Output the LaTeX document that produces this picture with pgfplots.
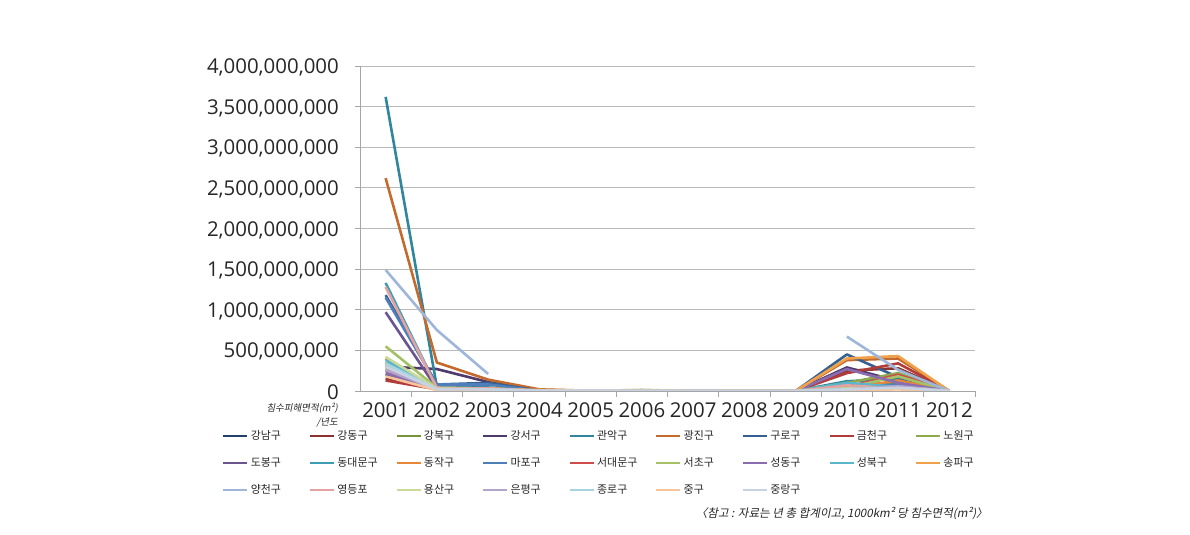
\documentclass[border=0pt]{standalone}
\usepackage{pgfplots}
\pgfplotsset{compat=1.18}
\usepackage{pgfplotstable}
\usepackage{fontspec}
\setmainfont{Open Sans}
\newfontfamily\kr{Noto Sans CJK KR}
\newfontfamily\krit[FakeSlant=0.2]{Noto Sans CJK KR}
\definecolor{c1}{HTML}{23426B}
\definecolor{c2}{HTML}{8B3331}
\definecolor{c3}{HTML}{77933C}
\definecolor{c4}{HTML}{4F3B6B}
\definecolor{c5}{HTML}{31859C}
\definecolor{c6}{HTML}{C46A2C}
\definecolor{c7}{HTML}{376092}
\definecolor{c8}{HTML}{B03D3A}
\definecolor{c9}{HTML}{8DAA4F}
\definecolor{c10}{HTML}{6B5590}
\definecolor{c11}{HTML}{3D9DB4}
\definecolor{c12}{HTML}{E7873A}
\definecolor{c13}{HTML}{4F7FBA}
\definecolor{c14}{HTML}{D04B4B}
\definecolor{c15}{HTML}{A5C168}
\definecolor{c16}{HTML}{8A6CB0}
\definecolor{c17}{HTML}{5BB5CC}
\definecolor{c18}{HTML}{F0A24A}
\definecolor{c19}{HTML}{9DB6DA}
\definecolor{c20}{HTML}{E3A3A1}
\definecolor{c21}{HTML}{C9DA9B}
\definecolor{c22}{HTML}{B2A5C9}
\definecolor{c23}{HTML}{A5D5E3}
\definecolor{c24}{HTML}{F8C49B}
\definecolor{c25}{HTML}{C7D3E3}
\definecolor{txt}{HTML}{262626}
\pgfplotscreateplotcyclelist{gu}{%
{c1},{c2},{c3},{c4},{c5},{c6},{c7},{c8},{c9},{c10},{c11},{c12},{c13},%
{c14},{c15},{c16},{c17},{c18},{c19},{c20},{c21},{c22},{c23},{c24},{c25}}
% values in millions of m^2
\pgfplotstableread{
x s1 s2 s3 s4 s5 s6 s7 s8 s9 s10 s11 s12 s13 s14 s15 s16 s17 s18 s19 s20 s21 s22 s23 s24 s25
0 200 150 350 300 3620 2620 1180 130 280 970 1330 400 1150 250 550 220 380 320 1490 1280 420 260 340 180 300
1 50 30 40 270 50 350 80 20 30 30 40 30 80 30 40 20 30 30 750 40 30 20 20 10 20
2 40 20 30 110 40 140 100 20 20 20 30 30 80 20 30 20 20 30 210 30 20 20 20 10 20
3 4 8 4 4 4 20 4 4 4 4 4 15 4 4 4 4 4 10 nan 4 4 4 4 4 4
4 3 8 3 3 3 3 3 3 3 3 3 3 3 3 3 3 3 3 nan 3 3 3 3 3 3
5 2 3 10 2 2 2 2 2 8 5 2 2 2 2 12 4 2 2 nan 2 6 3 2 2 2
6 1 1 2 1 1 1 1 1 2 3 1 1 1 1 2 4 1 1 nan 1 1 2 1 1 1
7 1 1 1 1 1 1 1 1 1 1 1 1 1 1 1 1 1 1 nan 1 1 1 1 1 1
8 0 0 0 0 0 0 0 0 0 0 0 0 0 0 0 0 0 0 nan 0 0 0 0 0 0
9 60 250 80 290 120 380 450 220 100 60 80 30 50 50 40 270 100 400 670 70 30 20 20 10 20
10 50 280 100 120 150 400 170 340 220 40 60 130 80 200 180 100 50 430 260 30 50 60 30 20 40
11 0 0 0 0 0 0 0 0 0 0 0 0 0 0 0 0 0 0 0 0 0 0 0 0 0
}\flood
\newcommand\lgd[1]{\makebox[56bp][l]{#1}}
\begin{document}
\begin{tikzpicture}
\useasboundingbox (0,0) rectangle (1190bp,535bp);
\begin{axis}[
  at={(360bp,144bp)}, anchor=south west,
  scale only axis, width=615bp, height=325bp,
  xmin=-0.5, xmax=11.5, ymin=0, ymax=4000,
  axis x line=bottom, axis y line=left,
  axis line style={-, draw=gray!70, line width=0.8bp},
  xtick={0,...,11},
  xticklabels={2001,2002,2003,2004,2005,2006,2007,2008,2009,2010,2011,2012},
  minor xtick={0.5,1.5,...,11.5},
  major x tick style={draw=none},
  minor x tick style={draw=gray!70, line width=0.8bp},
  minor tick length=6bp,
  tick align=outside,
  ytick={0,500,...,4000},
  yticklabels={0,{500,000,000},{1,000,000,000},{1,500,000,000},{2,000,000,000},{2,500,000,000},{3,000,000,000},{3,500,000,000},{4,000,000,000}},
  major y tick style={draw=gray!70, line width=0.8bp},
  major tick length=5bp,
  ymajorgrids, major grid style={draw=gray!55, line width=0.9bp},
  yticklabel style={font=\fontsize{20.5}{23}\selectfont, text=txt, inner sep=0pt, xshift=-16bp, yshift=-1.5bp},
  xticklabel style={font=\fontsize{20.5}{23}\selectfont, text=txt, inner sep=0pt, yshift=-6bp},
  unbounded coords=jump,
  cycle list name=gu,
  every axis plot/.append style={line width=2.6bp, line join=round},
  legend columns=9,
  legend cell align=left,
  legend style={at={(-0.2244,-0.115)}, anchor=north west, draw=none, fill=none,
    inner sep=0pt, font=\kr\fontsize{11}{13}\selectfont, text=txt,
    row sep=12.5bp, /tikz/every even column/.style={column sep=0pt}},
  legend image code/.code={\draw[#1, line width=2.6bp] (0bp,0bp) -- (24bp,0bp);},
]
\pgfplotsinvokeforeach{1,...,25}{\addplot table[x=x, y=s#1] {\flood};}
\legend{\lgd{강남구},\lgd{강동구},\lgd{강북구},\lgd{강서구},\lgd{관악구},\lgd{광진구},\lgd{구로구},\lgd{금천구},\lgd{노원구},
\lgd{도봉구},\lgd{동대문구},\lgd{동작구},\lgd{마포구},\lgd{서대문구},\lgd{서초구},\lgd{성동구},\lgd{성북구},\lgd{송파구},
\lgd{양천구},\lgd{영등포},\lgd{용산구},\lgd{은평구},\lgd{종로구},\lgd{중구},\lgd{중랑구}}
\end{axis}
\node[anchor=east, inner sep=0pt, font=\krit\fontsize{9.5}{11}\selectfont, text=txt] at (338bp,127bp) {침수피해면적(m²)};
\node[anchor=east, inner sep=0pt, font=\krit\fontsize{9.5}{11}\selectfont, text=txt] at (338bp,113bp) {/년도};
\node[anchor=east, inner sep=0pt, font=\krit\fontsize{11.6}{14}\selectfont, text=txt] at (988bp,22bp) {〈참고 : 자료는 년 총 합계이고, 1000km² 당 침수면적(m²)〉};
\end{tikzpicture}
\end{document}
